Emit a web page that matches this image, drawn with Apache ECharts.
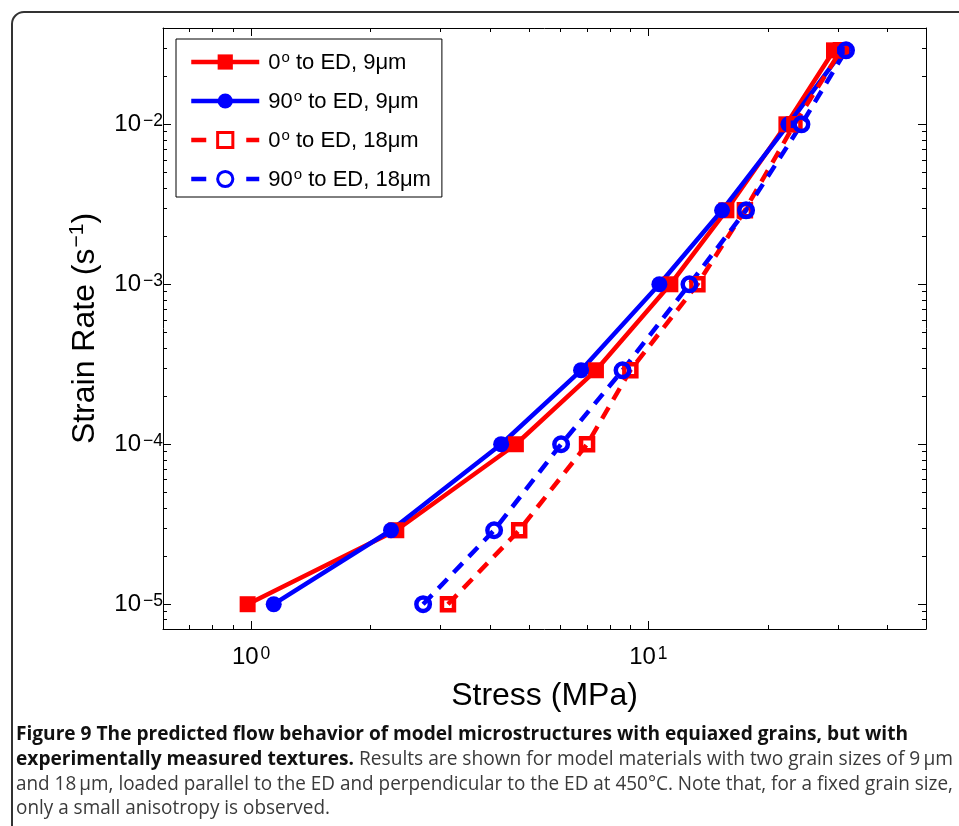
<!DOCTYPE html>
<html><head><meta charset="utf-8">
<script src="https://cdn.jsdelivr.net/npm/echarts@6/dist/echarts.min.js"></script>
<style>html,body{margin:0;padding:0;background:#fff;}#c{width:959px;height:826px;}</style>
</head><body><div id="c"></div>
<script>
// ---- data ----
const seriesNames = ['0° to ED, 9μm', '90° to ED, 9μm', '0° to ED, 18μm', '90° to ED, 18μm'];
const strainRate = [1e-5, 2.9e-5, 1e-4, 2.9e-4, 1e-3, 2.9e-3, 1e-2, 2.9e-2];
const stress0deg9um = [0.98, 2.32, 4.64, 7.38, 11.36, 15.72, 22.26, 29.33];
const stress90deg9um = [1.14, 2.25, 4.26, 6.77, 10.66, 15.33, 22.52, 30.9];
const stress0deg18um = [3.13, 4.73, 7.01, 9.01, 13.29, 17.5, 23.32, 30.54];
const stress90deg18um = [2.71, 4.09, 6.03, 8.61, 12.69, 17.62, 24.29, 31.45];
const xMajorTicks = [1, 10];
const xMinorTicks = [0.7, 0.8, 0.9, 2, 3, 4, 5, 6, 7, 8, 9, 20, 30, 40];
const yMajorTicks = [1e-5, 1e-4, 1e-3, 1e-2];
const yMinorTicks = [8e-6, 9e-6, 2e-5, 3e-5, 4e-5, 5e-5, 6e-5, 7e-5, 8e-5, 9e-5,
  2e-4, 3e-4, 4e-4, 5e-4, 6e-4, 7e-4, 8e-4, 9e-4,
  2e-3, 3e-3, 4e-3, 5e-3, 6e-3, 7e-3, 8e-3, 9e-3, 2e-2, 3e-2];
const xTitle = 'Stress (MPa)';
const yTitleParts = ['Strain Rate (s', '\u22121', ')'];
const captionBold1 = 'Figure 9 The predicted flow behavior of model microstructures with equiaxed grains, but with';
const captionBold2 = 'experimentally measured textures.';
const captionReg2 = ' Results are shown for model materials with two grain sizes of 9\u2009μm';
const captionReg3 = 'and 18\u2009μm, loaded parallel to the ED and perpendicular to the ED at 450°C. Note that, for a fixed grain size,';
const captionReg4 = 'only a small anisotropy is observed.';

// ---- chart ----
const FONT = 'Liberation Sans';
const CAPFONT = 'Open Sans';
const chart = echarts.init(document.getElementById('c'), null, {renderer: 'canvas', width: 959, height: 826});

const supRich = {
  b: {fontFamily: FONT, fontSize: 24, color: '#000', lineHeight: 24, verticalAlign: 'bottom'},
  e: {fontFamily: FONT, fontSize: 17.5, color: '#000', lineHeight: 17, verticalAlign: 'top', padding: [0, 0, 12, 2]}
};
function expLabel(v) {
  const e = Math.round(Math.log10(v));
  return '{b|10}{e|' + String(e).replace('-', '\u2212') + '}';
}
function axisDef(kind, pos, major, gridIndex) {
  const isX = kind === 'x';
  const ticks = major ? (isX ? xMajorTicks : yMajorTicks) : (isX ? xMinorTicks : yMinorTicks);
  const showLabel = major && (pos === 'bottom' || pos === 'left');
  const a = {
    type: 'log', logBase: 10, gridIndex: gridIndex, position: pos,
    min: isX ? 0.6 : 7e-6, max: isX ? 50 : 0.04,
    axisLine: {show: major, onZero: false, lineStyle: {color: '#000', width: 1}},
    axisTick: {show: true, inside: true, length: major ? 8 : 4, customValues: ticks, lineStyle: {color: '#000', width: 1}},
    axisLabel: {show: showLabel, customValues: ticks, formatter: expLabel, rich: supRich,
      fontFamily: FONT, fontSize: 24, color: '#000', margin: isX ? 16 : 0},
    splitLine: {show: false}, minorTick: {show: false}, minorSplitLine: {show: false}
  };
  if (showLabel && isX) {
    a.name = xTitle; a.nameLocation = 'middle'; a.nameGap = 46;
    a.nameTextStyle = {fontFamily: FONT, fontSize: 32, color: '#000'};
  }
  if (showLabel && !isX) {
    a.name = '{n|' + yTitleParts[0] + '}{e|' + yTitleParts[1] + '}{n|' + yTitleParts[2] + '}';
    a.nameLocation = 'middle'; a.nameGap = 62; a.nameRotate = 90;
    a.nameTextStyle = {rich: {
      n: {fontFamily: FONT, fontSize: 32, color: '#000', lineHeight: 34, verticalAlign: 'bottom'},
      e: {fontFamily: FONT, fontSize: 21, color: '#000', lineHeight: 21, verticalAlign: 'top', padding: [0, 0, 14, 1]}
    }};
  }
  return a;
}

const gridRect = {left: 163, top: 28, right: 33, bottom: 197, outerBoundsMode: 'none', containLabel: false};

function lineSeries(name, stress, color, symbol, dashed) {
  const filled = !dashed;
  return {
    name: name, type: 'line', xAxisIndex: 0, yAxisIndex: 0,
    data: strainRate.map((r, i) => [stress[i], r]),
    symbol: symbol,
    symbolSize: filled ? 16 : (symbol === 'rect' ? 12 : 13.5),
    showSymbol: true, showAllSymbol: true, animation: false,
    lineStyle: {color: color, width: 4.5, type: dashed ? [13, 9] : 'solid'},
    itemStyle: filled ? {color: color, borderWidth: 0} : {color: 'rgba(255,255,255,0)', borderColor: color, borderWidth: 4.5},
    emphasis: {disabled: true}
  };
}

// caption scaling via measured widths
const mctx = document.createElement('canvas').getContext('2d');
function textW(str, weight, size) { mctx.font = weight + ' ' + size + 'px "' + CAPFONT + '"'; return mctx.measureText(str).width; }
const CS = 19.5;
const sx1 = 892 / textW(captionBold1, 'bold', CS);
const sx2 = 937 / (textW(captionBold2, 'bold', CS) + textW(captionReg2, 'normal', CS));
const sx3 = 937 / textW(captionReg3, 'normal', CS);
const sx4 = 314 / textW(captionReg4, 'normal', CS);
const capRich = {
  b: {fontFamily: CAPFONT, fontSize: CS, fontWeight: 'bold', fill: '#111'},
  r: {fontFamily: CAPFONT, fontSize: CS, fontWeight: 'normal', fill: '#3a3a3a'}
};
function capText(y, sx, text) {
  return {type: 'text', x: 16, y: y, scaleX: sx, silent: true,
    style: {text: text, rich: capRich, verticalAlign: 'middle', align: 'left'}};
}

const dashedLegendLine = {width: 4.5, type: [15, 40]};
const openLegendItem = {borderWidth: 3};
const option = {
  animation: false,
  backgroundColor: '#fff',
  grid: [Object.assign({}, gridRect), Object.assign({}, gridRect)],
  xAxis: [axisDef('x', 'bottom', true, 0), axisDef('x', 'top', true, 0), axisDef('x', 'bottom', false, 1), axisDef('x', 'top', false, 1)],
  yAxis: [axisDef('y', 'left', true, 0), axisDef('y', 'right', true, 0), axisDef('y', 'left', false, 1), axisDef('y', 'right', false, 1)],
  legend: {
    show: true, left: 176, top: 39, orient: 'vertical', selectedMode: false,
    backgroundColor: '#fff', borderColor: '#000', borderWidth: 1, borderRadius: 0,
    padding: [11, 11, 3, 13], itemGap: 12, itemWidth: 68, itemHeight: 19,
    lineStyle: {width: 4.5},
    data: [
      {name: seriesNames[0], lineStyle: {width: 4.5}},
      {name: seriesNames[1], lineStyle: {width: 4.5}},
      {name: seriesNames[2], lineStyle: dashedLegendLine, itemStyle: openLegendItem},
      {name: seriesNames[3], lineStyle: dashedLegendLine, itemStyle: openLegendItem}
    ],
    formatter: function (name) {
      const m = name.match(/^(\d+)°(.*)$/);
      return '{f|' + m[1] + '}{s|o}{n|' + m[2] + '}';
    },
    textStyle: {fontFamily: FONT, fontSize: 22, color: '#000', rich: {
      f: {fontFamily: FONT, fontSize: 22, color: '#000', lineHeight: 24, verticalAlign: 'bottom', padding: [0, 0, 0, 4]},
      s: {fontFamily: FONT, fontSize: 15, color: '#000', lineHeight: 15, verticalAlign: 'top', padding: [0, 0, 12, 1]},
      n: {fontFamily: FONT, fontSize: 22, color: '#000', lineHeight: 24, verticalAlign: 'bottom'}
    }}
  },
  series: [
    lineSeries(seriesNames[0], stress0deg9um, '#ff0000', 'rect', false),
    lineSeries(seriesNames[1], stress90deg9um, '#0000ff', 'circle', false),
    lineSeries(seriesNames[2], stress0deg18um, '#ff0000', 'rect', true),
    lineSeries(seriesNames[3], stress90deg18um, '#0000ff', 'circle', true)
  ],
  graphic: [
    {type: 'rect', silent: true, z: -10, shape: {x: 12, y: 12, width: 1200, height: 1200, r: 12},
      style: {fill: 'none', stroke: '#333', lineWidth: 2}},
    capText(734, sx1, '{b|' + captionBold1 + '}'),
    capText(759, sx2, '{b|' + captionBold2 + '}{r|' + captionReg2 + '}'),
    capText(784, sx3, '{r|' + captionReg3 + '}'),
    capText(808, sx4, '{r|' + captionReg4 + '}')
  ]
};
chart.setOption(option);
</script>
</body></html>
